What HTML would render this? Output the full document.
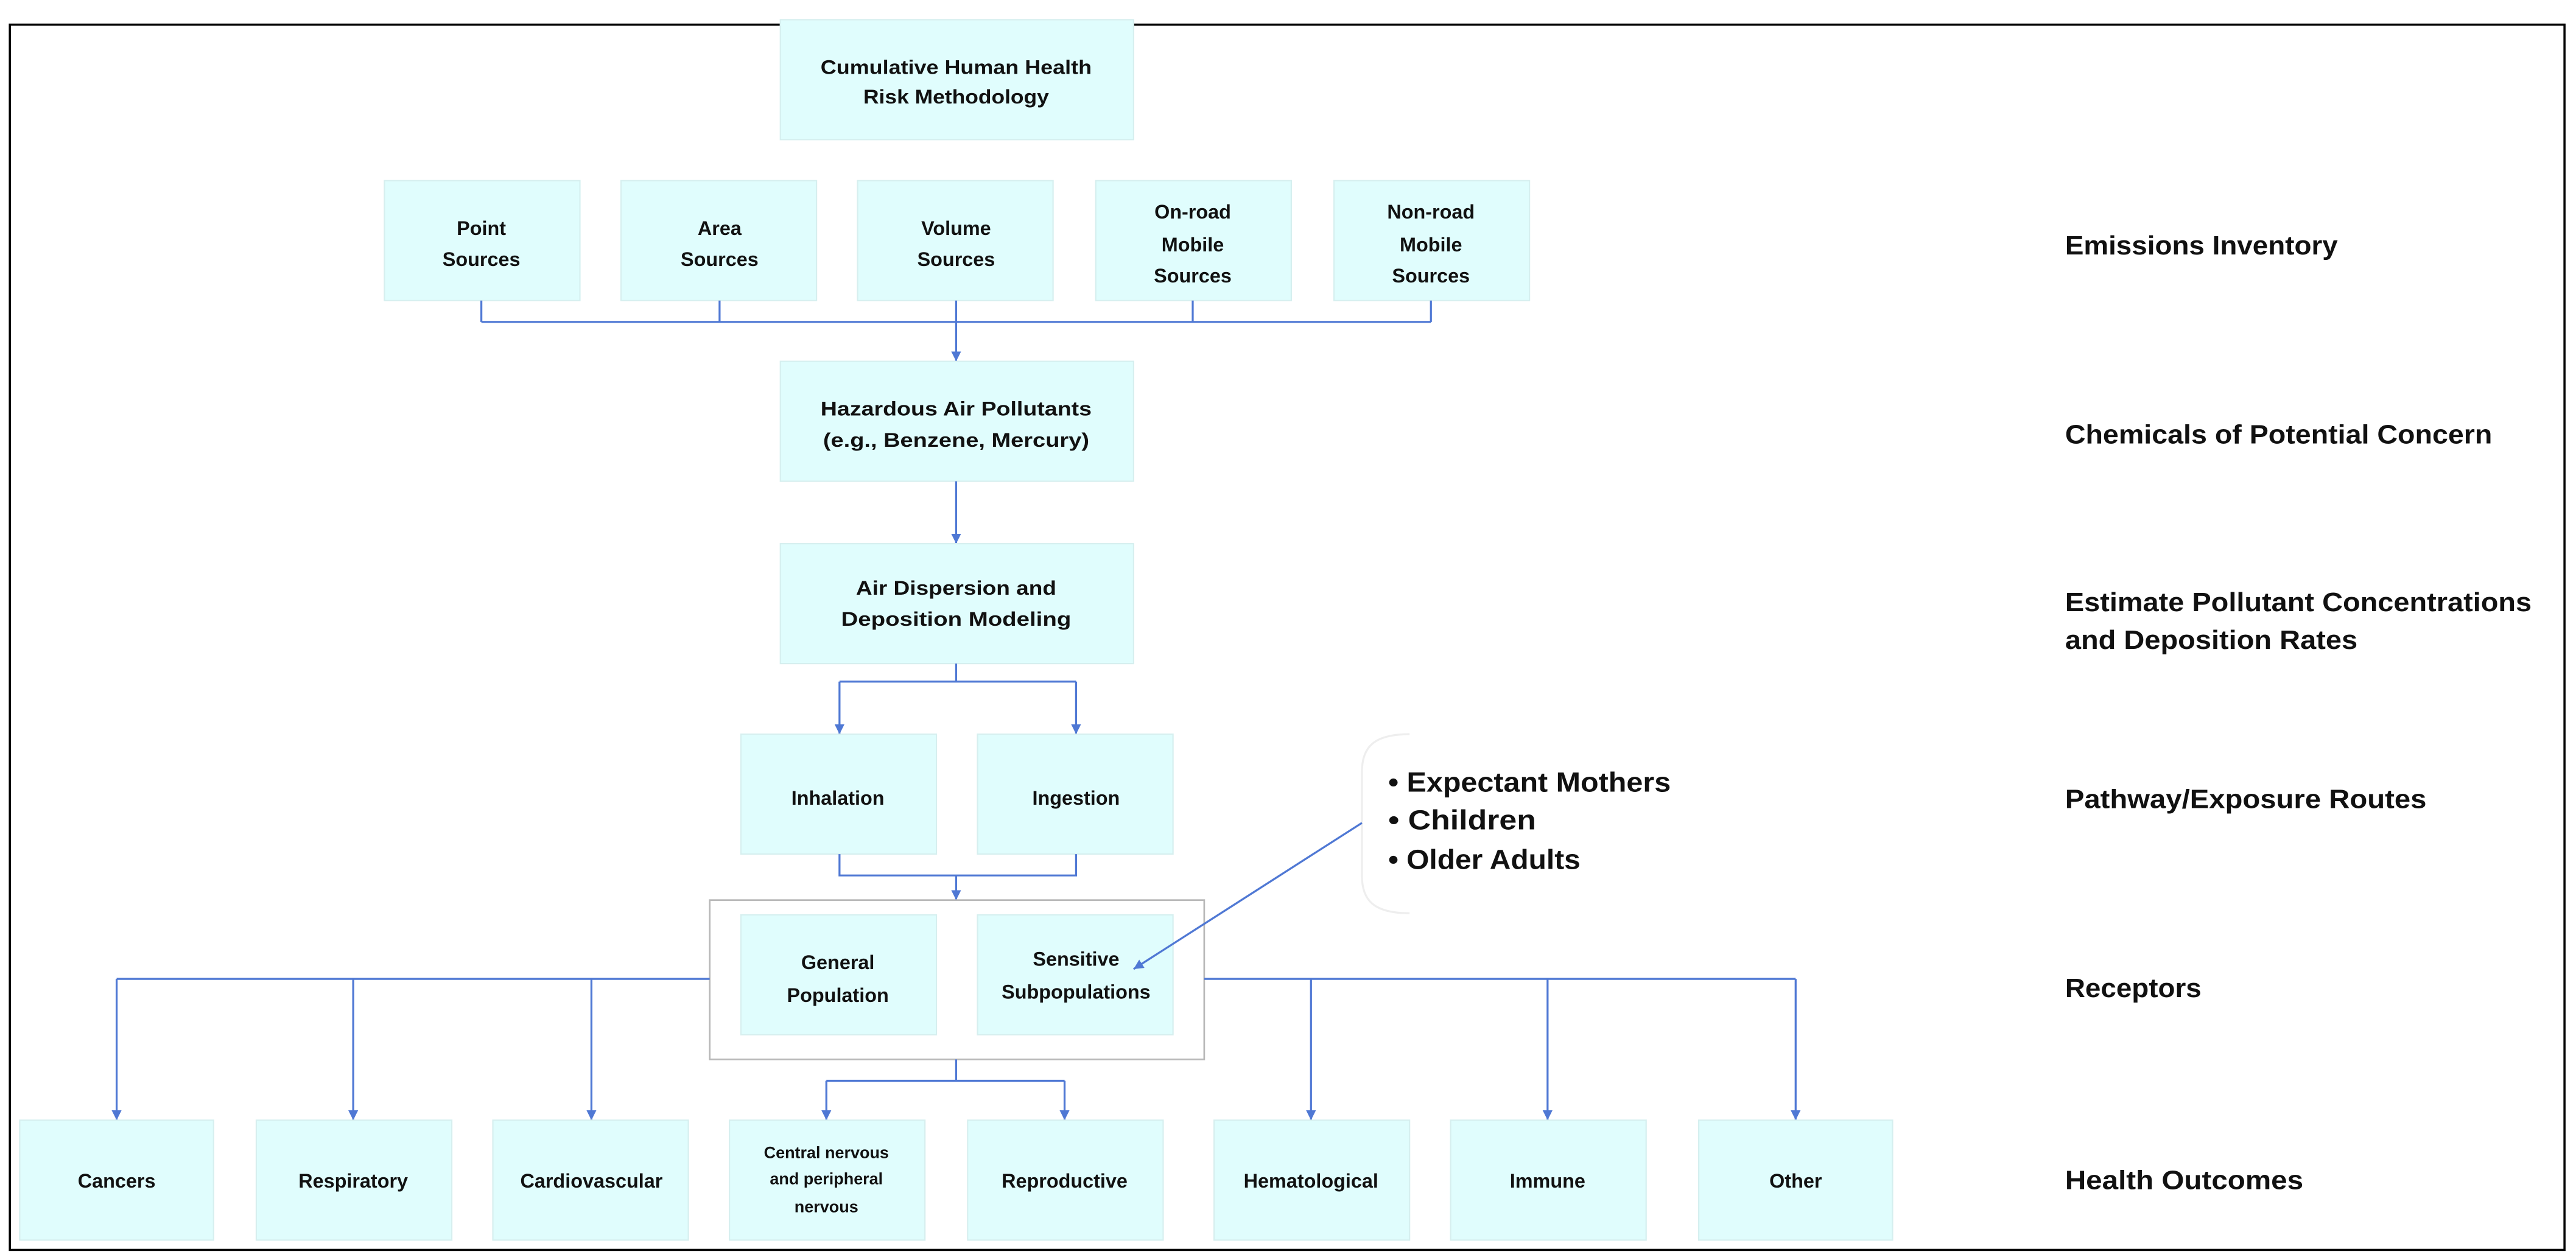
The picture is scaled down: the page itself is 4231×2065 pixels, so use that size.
<!DOCTYPE html>
<html><head><meta charset="utf-8"><style>
html,body{margin:0;padding:0;background:#fff;}
svg{display:block;}
text{font-family:"Liberation Sans",sans-serif;font-weight:bold;fill:#111;}
.b{fill:#e0fdfd;stroke:#d6efef;stroke-width:0.8;}
.c{fill:none;stroke:#4f78d4;stroke-width:1.2;}
.bt{font-size:12px;text-anchor:middle;}
.rl{font-size:16px;}
</style></head><body>
<svg width="4231" height="2065" viewBox="0 0 1568 765.3" preserveAspectRatio="none" xmlns="http://www.w3.org/2000/svg">
<defs><marker id="a" viewBox="0 0 10 10" refX="10" refY="5" markerWidth="6" markerHeight="6" markerUnits="userSpaceOnUse" orient="auto"><path d="M0,0L10,5L0,10z" fill="#4f78d4"/></marker></defs>
<rect x="6" y="15" width="1555" height="746" fill="none" stroke="#000" stroke-width="1.3"/>

<rect class="b" x="475" y="12" width="215" height="73"/>
<text class="bt" x="582" y="45" textLength="165" lengthAdjust="spacingAndGlyphs">Cumulative Human Health</text>
<text class="bt" x="582" y="63" textLength="113" lengthAdjust="spacingAndGlyphs">Risk Methodology</text>

<rect class="b" x="234" y="110" width="119" height="73"/>
<text class="bt" x="293" y="143">Point</text><text class="bt" x="293" y="162">Sources</text>
<rect class="b" x="378" y="110" width="119" height="73"/>
<text class="bt" x="438" y="143">Area</text><text class="bt" x="438" y="162">Sources</text>
<rect class="b" x="522" y="110" width="119" height="73"/>
<text class="bt" x="582" y="143">Volume</text><text class="bt" x="582" y="162">Sources</text>
<rect class="b" x="667" y="110" width="119" height="73"/>
<text class="bt" x="726" y="133">On-road</text><text class="bt" x="726" y="153">Mobile</text><text class="bt" x="726" y="172">Sources</text>
<rect class="b" x="812" y="110" width="119" height="73"/>
<text class="bt" x="871" y="133">Non-road</text><text class="bt" x="871" y="153">Mobile</text><text class="bt" x="871" y="172">Sources</text>

<path class="c" d="M293,183V196M438,183V196M726,183V196M871,183V196M293,196H871"/>
<path class="c" d="M582,183V220" marker-end="url(#a)"/>

<rect class="b" x="475" y="220" width="215" height="73"/>
<text class="bt" x="582" y="253" textLength="165" lengthAdjust="spacingAndGlyphs">Hazardous Air Pollutants</text>
<text class="bt" x="582" y="272" textLength="162" lengthAdjust="spacingAndGlyphs">(e.g., Benzene, Mercury)</text>
<path class="c" d="M582,293V331" marker-end="url(#a)"/>

<rect class="b" x="475" y="331" width="215" height="73"/>
<text class="bt" x="582" y="362" textLength="122" lengthAdjust="spacingAndGlyphs">Air Dispersion and</text>
<text class="bt" x="582" y="381" textLength="140" lengthAdjust="spacingAndGlyphs">Deposition Modeling</text>

<path class="c" d="M582,404V415M511,415H655"/>
<path class="c" d="M511,415V447" marker-end="url(#a)"/>
<path class="c" d="M655,415V447" marker-end="url(#a)"/>

<rect class="b" x="451" y="447" width="119" height="73"/>
<text class="bt" x="510" y="490">Inhalation</text>
<rect class="b" x="595" y="447" width="119" height="73"/>
<text class="bt" x="655" y="490">Ingestion</text>

<path class="c" d="M511,520V533H655V520"/>
<path class="c" d="M582,533V548" marker-end="url(#a)"/>

<rect x="432" y="548" width="301" height="97" fill="none" stroke="#b8b8b8" stroke-width="1"/>
<rect class="b" x="451" y="557" width="119" height="73"/>
<text class="bt" x="510" y="590">General</text><text class="bt" x="510" y="610">Population</text>
<rect class="b" x="595" y="557" width="119" height="73"/>
<text class="bt" x="655" y="588">Sensitive</text><text class="bt" x="655" y="608">Subpopulations</text>

<path d="M858,447C836,447 829,455 829,470V533C829,548 836,556 858,556" fill="none" stroke="#eeeeee" stroke-width="1.2"/>
<text x="845" y="482" style="font-size:17px" textLength="172" lengthAdjust="spacingAndGlyphs">• Expectant Mothers</text>
<text x="845" y="505" style="font-size:17px" textLength="90" lengthAdjust="spacingAndGlyphs">• Children</text>
<text x="845" y="529" style="font-size:17px" textLength="117" lengthAdjust="spacingAndGlyphs">• Older Adults</text>
<path class="c" d="M829,501L690,590" marker-end="url(#a)"/>

<path class="c" d="M71,596H432M733,596H1093"/>
<path class="c" d="M71,596V682" marker-end="url(#a)"/>
<path class="c" d="M215,596V682" marker-end="url(#a)"/>
<path class="c" d="M360,596V682" marker-end="url(#a)"/>
<path class="c" d="M798,596V682" marker-end="url(#a)"/>
<path class="c" d="M942,596V682" marker-end="url(#a)"/>
<path class="c" d="M1093,596V682" marker-end="url(#a)"/>
<path class="c" d="M582,645V658M503,658H648"/>
<path class="c" d="M503,658V682" marker-end="url(#a)"/>
<path class="c" d="M648,658V682" marker-end="url(#a)"/>

<rect class="b" x="12" y="682" width="118" height="73"/><text class="bt" x="71" y="723">Cancers</text>
<rect class="b" x="156" y="682" width="119" height="73"/><text class="bt" x="215" y="723">Respiratory</text>
<rect class="b" x="300" y="682" width="119" height="73"/><text class="bt" x="360" y="723">Cardiovascular</text>
<rect class="b" x="444" y="682" width="119" height="73"/>
<text class="bt" x="503" y="705" style="font-size:10px">Central nervous</text>
<text class="bt" x="503" y="721" style="font-size:10px">and peripheral</text>
<text class="bt" x="503" y="738" style="font-size:10px">nervous</text>
<rect class="b" x="589" y="682" width="119" height="73"/><text class="bt" x="648" y="723">Reproductive</text>
<rect class="b" x="739" y="682" width="119" height="73"/><text class="bt" x="798" y="723">Hematological</text>
<rect class="b" x="883" y="682" width="119" height="73"/><text class="bt" x="942" y="723">Immune</text>
<rect class="b" x="1034" y="682" width="118" height="73"/><text class="bt" x="1093" y="723">Other</text>

<text class="rl" x="1257" y="155" textLength="166" lengthAdjust="spacingAndGlyphs">Emissions Inventory</text>
<text class="rl" x="1257" y="270" textLength="260" lengthAdjust="spacingAndGlyphs">Chemicals of Potential Concern</text>
<text class="rl" x="1257" y="372" textLength="284" lengthAdjust="spacingAndGlyphs">Estimate Pollutant Concentrations</text>
<text class="rl" x="1257" y="395" textLength="178" lengthAdjust="spacingAndGlyphs">and Deposition Rates</text>
<text class="rl" x="1257" y="492" textLength="220" lengthAdjust="spacingAndGlyphs">Pathway/Exposure Routes</text>
<text class="rl" x="1257" y="607" textLength="83" lengthAdjust="spacingAndGlyphs">Receptors</text>
<text class="rl" x="1257" y="724" textLength="145" lengthAdjust="spacingAndGlyphs">Health Outcomes</text>
</svg>
</body></html>
